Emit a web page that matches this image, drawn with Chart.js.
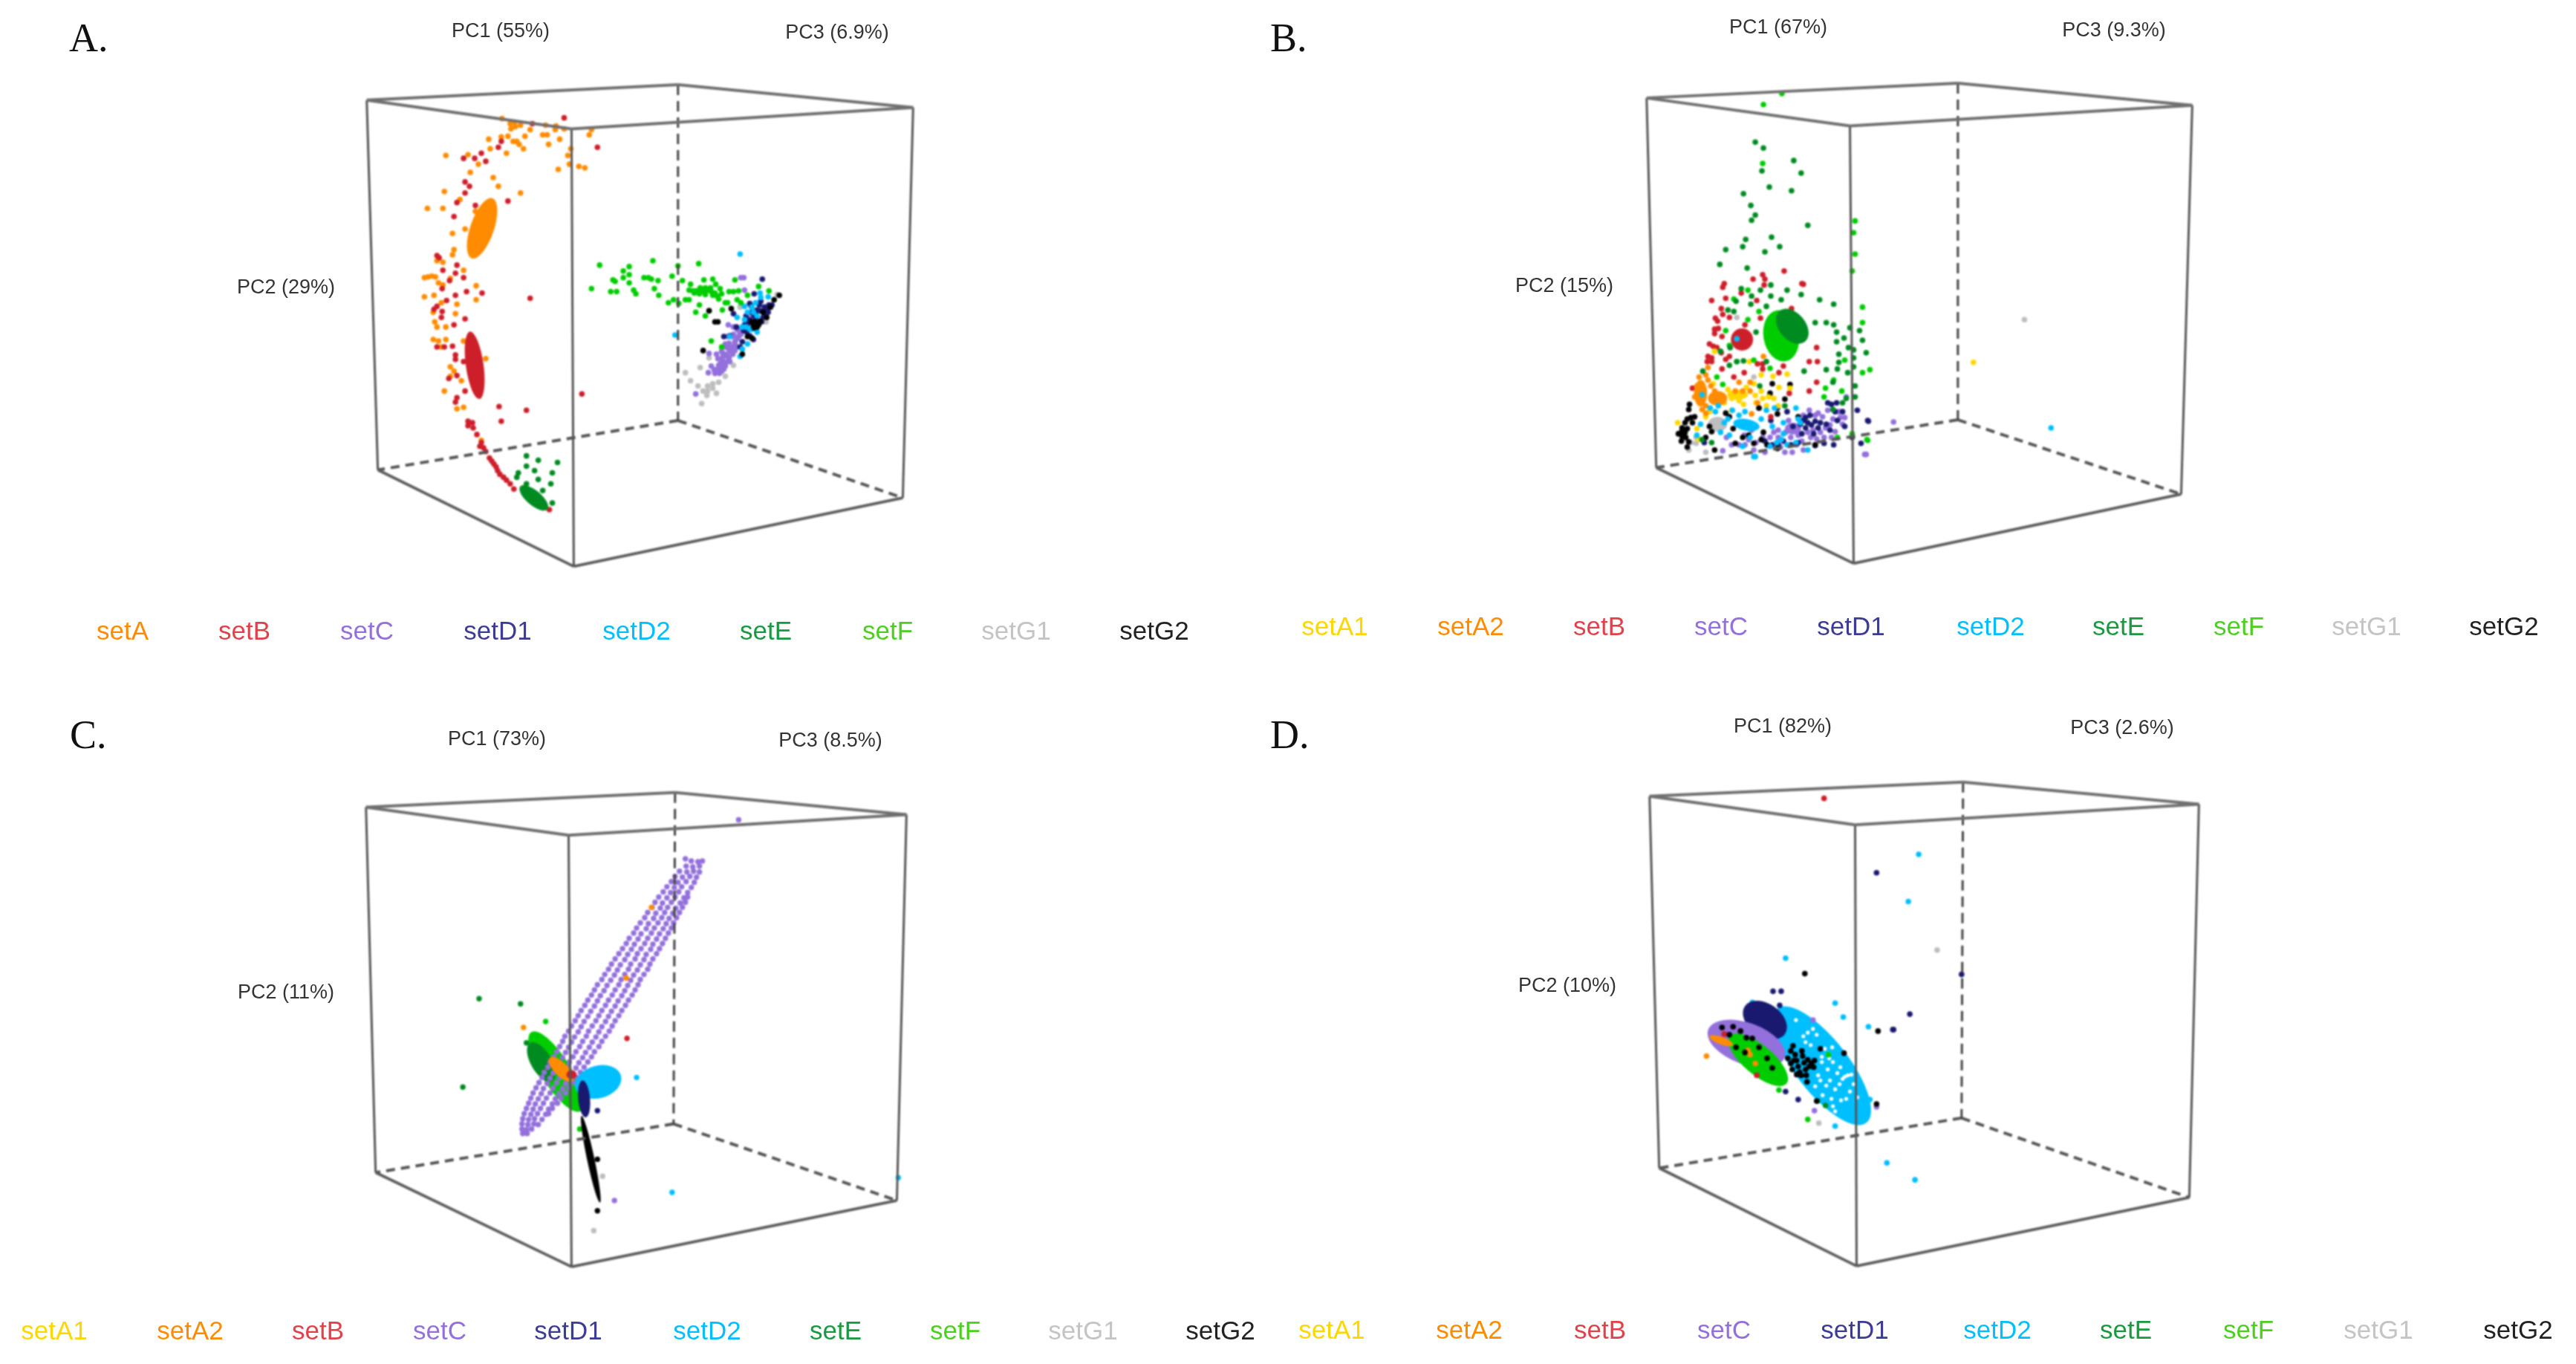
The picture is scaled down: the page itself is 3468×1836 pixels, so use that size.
<!DOCTYPE html>
<html>
<head>
<meta charset="utf-8">
<title>PCA panels</title>
<script src="https://cdn.jsdelivr.net/npm/chart.js@4/dist/chart.umd.min.js"></script>
<style>
  html, body { margin: 0; padding: 0; background: #fff; }
  #page { position: relative; width: 3468px; height: 1836px; overflow: hidden; background: #fff; }
  canvas { position: absolute; filter: blur(0.9px); }
  .txt { position: absolute; transform: translate(-50%, -50%); white-space: nowrap; font-family: "Liberation Sans", Arial, sans-serif; filter: blur(0.6px); }
  .pc { font-size: 27px; color: #333; }
  .leg { font-size: 35px; }
  .tag { font-family: "Liberation Serif", serif; font-size: 54px; color: #111; transform: translate(0, -50%); filter: none; }
</style>
</head>
<body>
<div id="page"></div>
<script>
// box corners: top left, top back, top right, top front, bottom left, bottom back, bottom right, bottom front
const boxA = [[492,132],[913,111],[1231,142],[769,171],[507,634],[913,567],[1217,672],[772,765]];
const boxB = [[2215,129],[2636,109],[2953,139],[2490,167],[2228,631],[2636,566],[2938,667],[2495,761]];
const boxC = [[491,1084],[909,1064],[1222,1094],[765,1122],[504,1580],[907,1514],[1209,1618],[769,1708]];
const boxD = [[2219,1069],[2643,1050],[2962,1080],[2497,1108],[2232,1574],[2641,1506],[2949,1614],[2499,1707]];

// panel A
const aSetA = [[675,157],[686,164],[692,162],[693,168],[700,166],[687,171],[713,172],[734,166],[747,172],[748,167],[759,171],[796,172],[793,179],[657,185],[674,182],[683,181],[706,181],[730,179],[736,179],[753,185],[738,192],[690,188],[695,188],[698,192],[704,198],[659,198],[681,204],[768,198],[764,207],[629,206],[599,207],[643,219],[766,219],[779,222],[787,224],[751,226],[632,230],[663,237],[670,249],[700,258],[597,256],[618,267],[574,279],[595,279],[639,283],[625,307],[608,313],[610,335],[608,342],[587,350],[595,352],[623,363],[570,373],[575,372],[580,371],[585,372],[605,374],[589,380],[595,383],[640,384],[640,403],[570,399],[583,397],[593,407],[614,409],[582,420],[612,422],[584,433],[587,440],[599,440],[582,457],[589,459],[599,457],[623,459],[593,467],[653,483],[605,494],[610,500],[605,507],[620,513],[597,527],[614,551],[623,549],[647,594]];
const aSetB = [[759,156],[804,196],[674,188],[670,196],[647,204],[638,211],[623,211],[653,215],[625,243],[631,249],[625,258],[614,271],[639,275],[683,269],[610,290],[587,343],[590,346],[614,356],[716,164],[595,363],[612,367],[623,373],[604,377],[594,388],[627,392],[648,394],[612,397],[600,404],[713,401],[587,412],[583,416],[594,419],[593,427],[625,429],[610,437],[587,467],[597,467],[608,466],[612,478],[612,484],[623,487],[614,506],[603,510],[625,527],[614,536],[612,542],[671,548],[708,553],[674,568],[629,568],[635,570],[629,574],[783,531],[636,577],[641,586],[647,597],[653,609],[658,618],[664,626],[669,635],[677,644],[686,653],[691,660],[739,688],[645,602],[650,604],[661,622],[667,630],[672,640],[681,648]];
const aSetC = [[998,373],[1002,373],[1003,390],[981,437],[988,440],[993,443],[997,448],[995,453],[990,460],[992,467],[987,467],[983,472],[987,477],[980,480],[977,477],[973,483],[980,487],[970,490],[977,493],[967,497],[972,500],[963,503],[954,502],[958,493],[955,476],[977,463],[980,453],[967,483],[937,531],[1000,440],[983,487],[972,473],[982,462],[987,453],[1013,423],[1030,423],[965,477],[975,488],[969,503],[962,498],[965,500],[970,495],[975,490],[972,483],[978,478],[983,473],[985,468],[990,462],[993,456],[998,450],[975,497],[982,482],[990,472],[968,492],[995,445],[988,450],[979,468],[974,478]];
const aSetD1 = [[1027,375],[1016,395],[1010,408],[1023,410],[1030,413],[1013,420],[1020,417],[1028,427],[1010,430],[1003,437],[988,422],[992,440],[983,452],[975,453],[1010,452],[1015,457],[1000,460],[997,467],[1033,417],[1025,405],[1040,410],[1005,425],[1018,428],[1012,412],[1018,422],[1024,418],[1030,420],[1036,410],[1035,420],[1026,433],[1016,425],[1008,435],[1002,445],[1006,447]];
const aSetD2 = [[997,341],[909,451],[1024,394],[1035,399],[1018,407],[1013,413],[1007,420],[993,427],[1003,430],[1013,443],[1020,447],[997,480],[1000,470],[1007,463],[983,453],[1010,443],[1003,412],[1000,440],[1015,420],[1020,425],[1025,400],[1005,440]];
const aSetE = [[708,615],[724,621],[750,624],[719,635],[697,638],[743,638],[724,647],[741,653],[695,644],[708,653],[730,662],[743,679],[708,629]];
const aSetF = [[807,356],[796,388],[822,392],[830,392],[825,376],[828,378],[839,364],[847,358],[847,369],[839,373],[847,380],[853,390],[856,395],[879,350],[867,373],[873,373],[877,375],[886,377],[881,388],[887,397],[905,371],[913,357],[919,377],[930,382],[941,354],[948,376],[960,375],[990,376],[900,407],[907,403],[914,408],[923,403],[928,403],[937,420],[942,410],[950,425],[955,418],[973,417],[977,407],[980,407],[964,382],[970,388],[972,395],[982,392],[988,392],[995,391],[993,403],[998,407],[1007,397],[1022,385],[1036,391],[958,459],[972,467],[928,390],[933,391],[938,391],[943,390],[948,392],[953,390],[958,392],[963,394],[966,398],[960,397],[950,396],[942,395],[935,394],[957,387],[950,387],[943,387],[968,402]];
const aSetG1 = [[923,502],[943,495],[930,513],[940,520],[947,527],[953,520],[960,517],[968,515],[965,530],[952,533],[945,544],[955,482],[953,527],[960,523],[977,507],[988,492],[997,413],[1047,396],[1032,433]];
const aSetG2 = [[1050,397],[1043,403],[1018,435],[1022,437],[1015,438],[1013,433],[1020,440],[967,433],[963,433],[947,472],[985,415],[955,418],[1000,477],[1013,455],[1038,413],[1033,427],[1028,420],[1007,453],[1017,433],[1019,436],[1016,441],[1024,432]];
const aEllipses = { setA: [[648,306,43,16,-71]], setB: [[638,492,46,12,82]], setE: [[718,672,24,10,40]] };

// panel B
const bSetA1 = [[2257,570],[2283,578],[2295,562],[2307,473],[2305,517],[2354,487],[2386,507],[2405,504],[2370,505],[2360,517],[2370,527],[2362,533],[2372,537],[2380,535],[2387,537],[2394,522],[2363,543],[2377,547],[2346,545],[2330,537],[2393,547],[2348,532],[2320,543],[2330,553],[2409,523],[2657,488],[2340,540],[2350,522],[2325,525],[2300,555],[2285,592]];
const bSetA2 = [[2298,495],[2295,505],[2286,508],[2298,512],[2302,520],[2307,527],[2335,527],[2345,527],[2355,527],[2340,515],[2355,515],[2295,547],[2290,552],[2287,543],[2365,543],[2357,558],[2373,480],[2295,557],[2280,535],[2283,520],[2292,530]];
const bSetB = [[2318,386],[2374,383],[2427,382],[2303,404],[2322,401],[2343,394],[2364,404],[2316,415],[2318,423],[2327,427],[2411,415],[2369,428],[2308,428],[2311,432],[2348,437],[2307,443],[2312,442],[2307,449],[2317,453],[2300,463],[2305,466],[2310,468],[2316,475],[2298,480],[2303,482],[2297,487],[2303,487],[2327,480],[2322,484],[2445,468],[2435,487],[2446,487],[2400,493],[2365,490],[2372,490],[2372,497],[2317,497],[2347,502],[2333,508],[2394,502],[2445,515],[2435,527],[2277,523],[2408,530],[2383,562],[2359,375],[2375,375],[2401,364],[2425,381],[2320,381],[2372,369]];
const bSetC = [[2435,553],[2447,557],[2460,553],[2475,555],[2485,535],[2427,560],[2453,562],[2467,565],[2483,563],[2477,563],[2463,573],[2457,577],[2450,583],[2433,583],[2440,580],[2420,587],[2393,580],[2387,583],[2382,590],[2347,587],[2353,593],[2363,597],[2348,600],[2323,590],[2318,608],[2427,607],[2403,583],[2512,613],[2407,567],[2418,600],[2465,590],[2393,590],[2357,580],[2510,613],[2549,569],[2372,590],[2378,600],[2396,603],[2410,590],[2425,595],[2437,590],[2445,592],[2455,590],[2470,582],[2480,572],[2443,560],[2412,610],[2340,600],[2330,600],[2360,607],[2375,610],[2402,610]];
const bSetD1 = [[2460,543],[2472,543],[2500,553],[2515,568],[2505,598],[2493,590],[2427,567],[2433,570],[2438,573],[2443,568],[2430,577],[2423,572],[2447,577],[2468,600],[2455,598],[2443,601],[2420,597],[2383,567],[2367,550],[2392,550],[2405,555],[2483,575],[2458,572],[2293,597],[2413,575],[2473,567],[2463,580],[2393,600],[2514,567],[2430,563],[2436,560],[2450,570],[2441,585],[2425,585],[2470,555],[2465,545],[2480,555],[2400,595],[2410,600],[2385,600],[2375,595]];
const bSetD2 = [[2288,572],[2283,587],[2301,550],[2308,555],[2312,547],[2331,553],[2348,555],[2377,553],[2388,550],[2417,550],[2327,587],[2315,583],[2382,602],[2400,585],[2397,593],[2405,600],[2417,597],[2360,616],[2433,607],[2420,565],[2423,570],[2391,597],[2320,570],[2290,532],[2337,456],[2762,577],[2362,616],[2325,565],[2340,560],[2370,565],[2355,590],[2385,575],[2400,570],[2345,602]];
const bSetE = [[2362,189],[2373,197],[2371,228],[2414,214],[2424,231],[2381,250],[2411,255],[2346,259],[2356,275],[2362,288],[2357,295],[2433,302],[2349,321],[2345,331],[2322,335],[2384,318],[2395,331],[2375,338],[2351,360],[2314,355],[2343,388],[2383,383],[2369,390],[2405,390],[2424,396],[2449,403],[2468,409],[2357,398],[2383,398],[2397,403],[2336,405],[2356,409],[2377,412],[2325,417],[2333,419],[2443,434],[2458,434],[2468,437],[2472,447],[2482,455],[2472,460],[2490,441],[2503,445],[2507,458],[2488,468],[2495,471],[2475,477],[2495,482],[2512,475],[2475,488],[2473,497],[2458,498],[2428,500],[2487,502],[2495,494],[2467,515],[2363,447],[2328,468],[2315,473],[2337,487],[2346,486],[2327,492],[2377,487],[2291,500],[2368,520],[2497,520],[2485,537],[2497,535],[2467,552],[2480,543],[2290,593],[2303,597],[2402,547]];
const bSetF = [[2373,138],[2398,123],[2372,218],[2497,296],[2495,312],[2497,341],[2493,364],[2507,413],[2507,434],[2517,498],[2507,502],[2483,485],[2468,512],[2457,523],[2455,535],[2479,527],[2352,390],[2333,402],[2352,430],[2367,419],[2322,445],[2327,465],[2337,487],[2360,485],[2310,508],[2318,518],[2382,496],[2513,593],[2473,590],[2493,585],[2514,594]];
const bSetG1 = [[2275,597],[2282,598],[2263,593],[2295,610],[2360,508],[2287,543],[2272,607],[2282,590],[2726,430],[2337,427]];
const bSetG2 = [[2273,545],[2275,563],[2270,565],[2267,570],[2263,577],[2263,588],[2268,590],[2270,603],[2280,562],[2300,575],[2303,582],[2322,557],[2327,562],[2332,578],[2335,598],[2307,607],[2385,517],[2409,518],[2382,530],[2402,538],[2367,550],[2392,558],[2373,583],[2392,605],[2417,598],[2443,600],[2370,593],[2353,587],[2420,562],[2267,583],[2272,552],[2277,570],[2262,583],[2270,578],[2258,585],[2272,596],[2262,595],[2295,590],[2345,590],[2360,598],[2378,600]];
const bEllipses = {
  setA1: [[2338,532,14,7,0]],
  setA2: [[2311,537,13,10,0],[2288,530,18,9,90]],
  setB: [[2344,457,15,15,0]],
  setC: [[2413,578,11,8,0]],
  setD2: [[2350,573,18,8,10]],
  setE: [[2412,439,27,18,50]],
  setF: [[2397,452,35,24,80]],
  setG1: [[2311,572,13,10,0]]
};

// panel C
const cSetA2 = [[704,1383],[877,1220],[843,1316]];
const cSetB = [[844,1398]];
const cSetC = [[931,1157],[940,1158],[946,1157],[924,1164],[933,1165],[942,1164],[915,1171],[925,1172],[934,1171],[942,1172],[909,1178],[919,1179],[929,1178],[938,1179],[904,1185],[913,1186],[924,1185],[935,1186],[898,1192],[908,1193],[918,1192],[931,1193],[893,1199],[903,1200],[914,1199],[926,1200],[887,1206],[898,1207],[909,1206],[921,1207],[926,1206],[882,1213],[892,1214],[904,1213],[916,1214],[923,1213],[878,1220],[889,1221],[899,1220],[910,1221],[919,1220],[872,1227],[883,1228],[895,1227],[906,1228],[915,1227],[868,1234],[880,1235],[891,1234],[901,1235],[911,1234],[862,1241],[873,1242],[886,1241],[897,1242],[907,1241],[857,1248],[870,1249],[881,1248],[893,1249],[904,1248],[853,1255],[863,1256],[877,1255],[888,1256],[900,1255],[847,1262],[859,1263],[872,1262],[884,1263],[896,1262],[843,1269],[854,1270],[868,1269],[879,1270],[892,1269],[838,1276],[850,1277],[863,1276],[876,1277],[888,1276],[833,1283],[845,1284],[858,1283],[870,1284],[884,1283],[828,1290],[841,1291],[855,1290],[867,1291],[879,1290],[823,1297],[835,1298],[849,1297],[862,1298],[875,1297],[819,1304],[831,1305],[846,1304],[858,1305],[872,1304],[814,1311],[827,1312],[841,1311],[853,1312],[867,1311],[810,1318],[822,1319],[836,1318],[849,1319],[862,1318],[804,1325],[817,1326],[833,1325],[845,1326],[859,1325],[800,1332],[813,1333],[828,1332],[841,1333],[855,1332],[796,1339],[808,1340],[824,1339],[837,1340],[851,1339],[791,1346],[804,1347],[819,1346],[832,1347],[846,1346],[787,1353],[800,1354],[815,1353],[828,1354],[842,1353],[782,1360],[795,1361],[810,1360],[823,1361],[837,1360],[778,1367],[791,1368],[806,1367],[819,1368],[833,1367],[774,1374],[786,1375],[802,1374],[815,1375],[828,1374],[769,1381],[782,1382],[797,1381],[810,1382],[824,1381],[765,1388],[778,1389],[792,1388],[806,1389],[820,1388],[760,1395],[773,1396],[789,1395],[802,1396],[815,1395],[757,1402],[769,1403],[784,1402],[797,1403],[810,1402],[753,1409],[765,1410],[780,1409],[793,1410],[806,1409],[749,1416],[761,1417],[775,1416],[788,1417],[800,1416],[745,1423],[757,1424],[771,1423],[784,1424],[796,1423],[740,1430],[752,1431],[766,1430],[779,1431],[791,1430],[737,1437],[748,1438],[762,1437],[775,1438],[786,1437],[732,1444],[744,1445],[757,1444],[770,1445],[781,1444],[729,1451],[740,1452],[753,1451],[765,1452],[776,1451],[725,1458],[736,1459],[749,1458],[761,1459],[772,1458],[721,1465],[731,1466],[744,1465],[757,1466],[766,1465],[717,1472],[728,1473],[740,1472],[752,1473],[761,1472],[714,1479],[724,1480],[735,1479],[747,1480],[755,1479],[711,1486],[720,1487],[731,1486],[743,1487],[750,1486],[708,1493],[717,1494],[727,1493],[738,1494],[743,1493],[705,1500],[714,1501],[723,1500],[734,1501],[738,1500],[703,1507],[711,1508],[719,1507],[729,1508],[702,1514],[710,1515],[718,1514],[724,1515],[702,1521],[708,1522],[715,1521],[703,1527],[709,1527],[923,1154],[995,1101],[827,1618]];
const cSetD1 = [[804,1496]];
const cSetD2 = [[905,1607],[1211,1587],[857,1451]];
const cSetE = [[644,1344],[700,1351],[622,1464],[708,1404]];
const cSetF = [[734,1375],[780,1521]];
const cSetG1 = [[799,1659],[811,1585]];
const cSetG2 = [[804,1562],[804,1632]];
const cEllipses = {
  setA2: [[755,1440,22,9,45]],
  setB: [[769,1447,7,6,0]],
  setD1: [[786,1480,25,8,85]],
  setD2: [[805,1457,32,22,-15]],
  setE: [[728,1430,30,14,60]],
  setF: [[748,1443,63,20,58]],
  setG2: [[795,1562,60,5,78]]
};

// panel D
const dSetA2 = [[2296,1422],[2355,1420],[2362,1432],[2352,1414]];
const dSetB = [[2455,1072],[2364,1448]];
const dSetC = [[2440,1373],[2526,1491],[2442,1496]];
const dSetD1 = [[2526,1173],[2641,1311],[2386,1334],[2397,1334],[2571,1365],[2549,1386],[2403,1470],[2420,1481],[2395,1353],[2548,1386]];
const dSetD2 = [[2583,1148],[2569,1212],[2403,1289],[2470,1350],[2481,1369],[2515,1382],[2517,1481],[2470,1517],[2358,1349],[2540,1567],[2578,1590],[2416,1427],[2424,1437],[2432,1433]];
const dSetE = [[2446,1483],[2457,1489]];
const dSetF = [[2394,1468],[2433,1508],[2461,1420]];
const dSetG1 = [[2448,1513],[2608,1278]];
const dSetG2 = [[2406,1425],[2410,1432],[2412,1440],[2416,1420],[2418,1428],[2420,1436],[2422,1444],[2426,1422],[2428,1431],[2430,1440],[2433,1427],[2435,1436],[2438,1432],[2441,1437],[2414,1428],[2424,1448],[2431,1448],[2418,1447],[2425,1415],[2410,1415],[2442,1428],[2317,1383],[2332,1382],[2327,1393],[2348,1417],[2336,1410],[2350,1397],[2358,1398],[2367,1410],[2378,1425],[2385,1438],[2342,1388],[2432,1457],[2450,1412],[2482,1418],[2413,1408],[2528,1388],[2526,1487],[2445,1483],[2429,1310]];
const dGapsD2 = [[2417,1373],[2427,1395],[2433,1390],[2430,1403],[2452,1423],[2452,1430],[2467,1430],[2483,1450],[2487,1448],[2480,1453],[2478,1482],[2485,1480],[2453,1475],[2470,1467],[2463,1455],[2443,1463],[2470,1497],[2467,1490],[2437,1407],[2460,1440],[2447,1448],[2477,1437],[2445,1393],[2456,1412],[2462,1425],[2473,1445],[2495,1460],[2490,1470],[2458,1462],[2476,1460],[2492,1447],[2450,1455],[2440,1385],[2465,1480],[2500,1478],[2466,1410]];
const dEllipses = {
  setA2: [[2316,1401,17,5,20]],
  setB: [[2320,1392,4,4,0]],
  setC: [[2350,1405,55,28,20]],
  setD1: [[2375,1373,33,22,35]],
  setD2: [[2452,1435,98,36,52]],
  setF: [[2366,1427,50,20,40]]
};

// legend names, shared
const namesA = ['setA','setB','setC','setD1','setD2','setE','setF','setG1','setG2'];
const namesAll = ['setA1','setA2','setB','setC','setD1','setD2','setE','setF','setG1','setG2'];
const legendXA = [165,329,494,670,857,1031,1195,1368,1554];
const legendXB = [1797,1980,2153,2317,2492,2680,2852,3014,3186,3371];
const legendXC = [73,256,428,592,765,952,1125,1286,1458,1643];
const legendXD = [1793,1978,2154,2321,2497,2689,2862,3027,3202,3390];

const colors = {
  setA: '#ff8c00', setA1: '#ffd700', setA2: '#ff8c00', setB: '#cd1f2a', setC: '#9370db',
  setD1: '#191970', setD2: '#00bfff', setE: '#008b21', setF: '#00cd00', setG1: '#bebebe',
  setG2: '#000000', gaps: '#ffffff'
};
const legendColors = { ...colors, setB: '#e0414a', setD1: '#3c3c96', setE: '#1a9a40', setF: '#4ccf20', setG1: '#c4c4c4', setG2: '#222222' };

const page = document.getElementById('page');

function addText(text, x, y, cls, color) {
  const el = document.createElement('div');
  el.className = 'txt ' + cls;
  el.textContent = text;
  el.style.left = x + 'px';
  el.style.top = y + 'px';
  if (color) el.style.color = color;
  page.appendChild(el);
}

// filled ellipses sit under the points of their series
const ellipsePlugin = {
  id: 'ellipses',
  beforeDatasetDraw(chart, args) {
    const list = chart.data.datasets[args.index].ellipses;
    if (!list) return;
    const ctx = chart.ctx;
    const xs = chart.scales.x, ys = chart.scales.y;
    ctx.save();
    ctx.fillStyle = chart.data.datasets[args.index].backgroundColor;
    list.forEach(e => {
      const cx = xs.getPixelForValue(e[0]), cy = ys.getPixelForValue(e[1]);
      const rx = Math.abs(xs.getPixelForValue(e[0] + e[2]) - cx);
      const ry = Math.abs(xs.getPixelForValue(e[0] + e[3]) - cx);
      ctx.beginPath();
      ctx.ellipse(cx, cy, rx, ry, e[4] * Math.PI / 180, 0, Math.PI * 2);
      ctx.fill();
    });
    ctx.restore();
  }
};

function edge(box, i, j, color, width, dash) {
  return {
    type: 'scatter', showLine: true, pointRadius: 0, borderColor: color, borderWidth: width,
    borderDash: dash || [], backgroundColor: color,
    data: [box[i], box[j]].map(p => ({ x: p[0], y: p[1] }))
  };
}

function makePanel(left, top, box, radius, series, ellipses) {
  const canvas = document.createElement('canvas');
  canvas.width = 1734;
  canvas.height = 918;
  canvas.style.left = left + 'px';
  canvas.style.top = top + 'px';
  canvas.style.width = '1734px';
  canvas.style.height = '918px';
  page.appendChild(canvas);

  // the library paints the first dataset last, so everything goes in reversed
  const marks = series.map(s => ({
    label: s[0],
    data: s[1].map(p => ({ x: p[0], y: p[1] })),
    backgroundColor: colors[s[0]],
    pointRadius: s[0] === 'gaps' ? 2.6 : radius,
    pointBorderWidth: 0,
    ellipses: ellipses[s[0]]
  })).reverse();

  const lines = [
    edge(box, 0, 1, '#6f6f6f', 4), edge(box, 1, 2, '#6f6f6f', 4),
    edge(box, 2, 3, '#6f6f6f', 4), edge(box, 3, 0, '#6f6f6f', 4),
    edge(box, 0, 4, '#555555', 3), edge(box, 3, 7, '#555555', 3), edge(box, 2, 6, '#555555', 3),
    edge(box, 4, 7, '#5c5c5c', 3.8), edge(box, 7, 6, '#5c5c5c', 3.8),
    edge(box, 1, 5, '#444444', 3, [14, 8]),
    edge(box, 5, 4, '#555555', 4, [12, 8]), edge(box, 5, 6, '#555555', 4, [12, 8])
  ];

  new Chart(canvas, {
    type: 'scatter',
    data: { datasets: lines.concat(marks) },
    options: {
      responsive: false,
      animation: false,
      devicePixelRatio: 1,
      events: [],
      layout: { padding: 0 },
      plugins: { legend: { display: false }, tooltip: { enabled: false } },
      scales: {
        x: { type: 'linear', min: left, max: left + 1734, display: false },
        y: { type: 'linear', min: top, max: top + 918, reverse: true, display: false }
      }
    },
    plugins: [ellipsePlugin]
  });
}

makePanel(0, 0, boxA, 3.8,
  [['setG1',aSetG1],['setC',aSetC],['setD1',aSetD1],['setD2',aSetD2],['setF',aSetF],['setG2',aSetG2],['setA',aSetA],['setB',aSetB],['setE',aSetE]],
  aEllipses);
makePanel(1734, 0, boxB, 3.8,
  [['setG1',bSetG1],['setC',bSetC],['setD1',bSetD1],['setG2',bSetG2],['setB',bSetB],['setA1',bSetA1],['setA2',bSetA2],['setD2',bSetD2],['setF',bSetF],['setE',bSetE]],
  bEllipses);
makePanel(0, 918, boxC, 3.7,
  [['setG1',cSetG1],['setF',cSetF],['setE',cSetE],['setC',cSetC],['setD2',cSetD2],['setD1',cSetD1],['setG2',cSetG2],['setA2',cSetA2],['setB',cSetB]],
  cEllipses);
makePanel(1734, 918, boxD, 3.8,
  [['setD2',dSetD2],['gaps',dGapsD2],['setD1',dSetD1],['setC',dSetC],['setF',dSetF],['setE',dSetE],['setG1',dSetG1],['setA2',dSetA2],['setB',dSetB],['setG2',dSetG2]],
  dEllipses);

// axis labels
addText('PC1 (55%)', 674, 41, 'pc');
addText('PC3 (6.9%)', 1127, 43, 'pc');
addText('PC2 (29%)', 385, 386, 'pc');
addText('PC1 (67%)', 2394, 36, 'pc');
addText('PC3 (9.3%)', 2846, 40, 'pc');
addText('PC2 (15%)', 2106, 384, 'pc');
addText('PC1 (73%)', 669, 994, 'pc');
addText('PC3 (8.5%)', 1118, 996, 'pc');
addText('PC2 (11%)', 385, 1335, 'pc');
addText('PC1 (82%)', 2400, 977, 'pc');
addText('PC3 (2.6%)', 2857, 979, 'pc');
addText('PC2 (10%)', 2110, 1326, 'pc');

// panel letters
addText('A.', 93, 51, 'tag');
addText('B.', 1710, 51, 'tag');
addText('C.', 94, 989, 'tag');
addText('D.', 1710, 989, 'tag');

// legends
namesA.forEach((n, i) => addText(n, legendXA[i], 849, 'leg', legendColors[n]));
namesAll.forEach((n, i) => addText(n, legendXB[i], 843, 'leg', legendColors[n]));
namesAll.forEach((n, i) => addText(n, legendXC[i], 1791, 'leg', legendColors[n]));
namesAll.forEach((n, i) => addText(n, legendXD[i], 1790, 'leg', legendColors[n]));
</script>
</body>
</html>
